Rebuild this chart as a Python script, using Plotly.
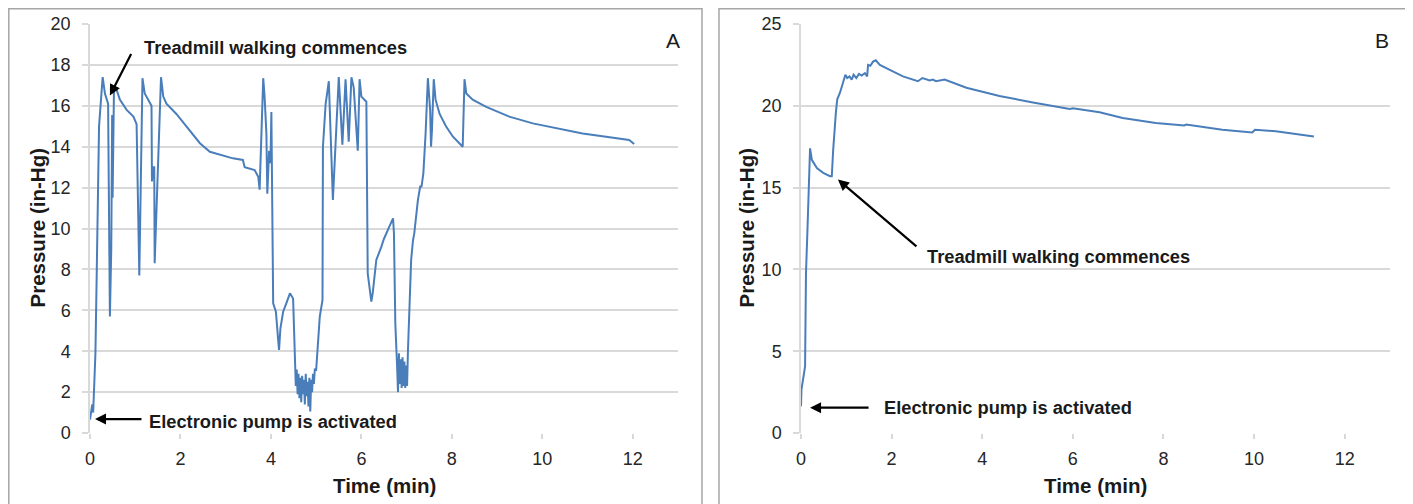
import plotly.graph_objects as go

# ---------------- Data: panel A ----------------
time_a = [0.00, 0.03, 0.05, 0.07, 0.09, 0.11, 0.12, 0.15, 0.18, 0.20, 0.28, 0.33, 0.40, 0.44, 0.47, 0.49,
          0.50, 0.53, 0.57, 0.66, 0.81, 0.96, 1.03, 1.09, 1.16, 1.21, 1.36, 1.37, 1.40, 1.42, 1.43, 1.46,
          1.57, 1.62, 1.69, 1.91, 2.13, 2.43, 2.65, 2.87, 3.16, 3.38, 3.42, 3.64, 3.72, 3.75, 3.83, 3.86,
          3.90, 3.92, 3.96, 3.99, 4.01, 4.05, 4.11, 4.16, 4.18, 4.21, 4.27, 4.34, 4.42, 4.49, 4.53, 4.55,
          4.57, 4.59, 4.61, 4.63, 4.65, 4.67, 4.69, 4.71, 4.73, 4.75, 4.77, 4.79, 4.81, 4.83, 4.85, 4.87,
          4.89, 4.91, 4.93, 4.95, 4.97, 5.00, 5.08, 5.14, 5.15, 5.21, 5.28, 5.37, 5.50, 5.58, 5.65, 5.72,
          5.78, 5.83, 5.92, 5.96, 6.00, 6.11, 6.14, 6.18, 6.22, 6.25, 6.33, 6.44, 6.50, 6.62, 6.70, 6.72,
          6.75, 6.79, 6.81, 6.83, 6.85, 6.87, 6.89, 6.91, 6.93, 6.95, 6.97, 6.99, 7.01, 7.03, 7.06, 7.10,
          7.14, 7.17, 7.25, 7.30, 7.33, 7.37, 7.42, 7.47, 7.52, 7.54, 7.56, 7.60, 7.64, 7.73, 7.87, 8.02,
          8.24, 8.28, 8.32, 8.46, 8.76, 9.27, 9.79, 10.30, 10.89, 11.41, 11.92, 12.03]
pressure_a = [0.65, 1.00, 1.40, 1.00, 2.20, 3.30, 3.90, 8.00, 14.00, 15.00, 17.40, 16.60, 16.10, 5.70, 9.00, 15.55,
              11.50, 16.80, 16.90, 16.30, 15.80, 15.47, 15.10, 7.70, 17.35, 16.60, 16.00, 12.30, 13.00, 13.00, 8.30, 10.10,
              17.40, 16.45, 16.10, 15.60, 15.00, 14.17, 13.75, 13.60, 13.43, 13.35, 13.00, 12.86, 12.53, 11.90, 17.35, 16.45,
              14.65, 11.70, 13.80, 13.20, 15.70, 6.34, 5.93, 4.55, 4.06, 5.12, 5.93, 6.34, 6.83, 6.58, 3.90, 2.30,
              3.10, 1.90, 2.90, 1.70, 2.70, 1.50, 2.80, 1.90, 2.60, 1.40, 2.90, 1.80, 2.50, 1.30, 2.70, 1.05,
              2.60, 2.00, 2.90, 2.40, 3.10, 3.08, 5.69, 6.50, 14.00, 16.10, 17.20, 11.40, 17.40, 14.10, 17.30, 14.25,
              17.40, 16.90, 13.80, 17.30, 16.45, 16.20, 7.80, 7.00, 6.42, 6.83, 8.46, 9.10, 9.50, 10.10, 10.50, 9.77,
              5.36, 3.24, 2.00, 3.90, 2.40, 3.60, 2.20, 3.70, 2.30, 3.50, 2.20, 3.30, 2.30, 4.06, 6.20, 8.46,
              9.40, 9.77, 11.40, 12.05, 12.05, 12.70, 14.65, 17.35, 15.80, 14.00, 14.80, 17.30, 16.30, 15.60, 15.00, 14.50,
              14.00, 17.30, 16.60, 16.30, 15.95, 15.47, 15.14, 14.90, 14.65, 14.49, 14.33, 14.13]

# ---------------- Data: panel B ----------------
time_b = [0.00, 0.01, 0.09, 0.11, 0.14, 0.18, 0.20, 0.24, 0.35, 0.49, 0.64, 0.68, 0.71, 0.77, 0.80, 0.86,
          0.90, 0.95, 0.98, 1.02, 1.07, 1.12, 1.16, 1.22, 1.28, 1.34, 1.41, 1.46, 1.48, 1.53, 1.59, 1.65,
          1.74, 1.96, 2.25, 2.58, 2.68, 2.84, 2.91, 2.98, 3.17, 3.65, 4.38, 5.12, 5.93, 6.00, 6.59, 7.10,
          7.83, 8.46, 8.50, 9.30, 9.96, 10.02, 10.48, 11.32]
pressure_b = [1.63, 2.65, 4.07, 9.78, 12.20, 16.90, 17.40, 16.70, 16.20, 15.90, 15.70, 15.70, 17.30, 19.60, 20.40, 20.80,
              21.20, 21.60, 21.90, 21.70, 21.80, 21.60, 21.90, 21.70, 21.95, 21.85, 22.00, 21.80, 22.50, 22.45, 22.70, 22.78,
              22.50, 22.20, 21.80, 21.50, 21.70, 21.55, 21.60, 21.50, 21.60, 21.10, 20.60, 20.20, 19.80, 19.85, 19.60, 19.25,
              18.95, 18.80, 18.85, 18.54, 18.37, 18.54, 18.44, 18.13]

x_ticks = [0, 2, 4, 6, 8, 10, 12]
y_ticks_a = [0, 2, 4, 6, 8, 10, 12, 14, 16, 18, 20]
y_ticks_b = [0, 5, 10, 15, 20, 25]

W, H = 1413, 504
OFF = 8  # page body margin offset


def px(s):
    return (s - OFF) / W


def py(s):
    return 1 - (s - OFF) / H


FONT = "Arial, Liberation Sans, sans-serif"
LINE_COLOR = "#4a7ebb"
GRID = "#d9d9d9"

fig = go.Figure()
fig.add_trace(go.Scatter(x=time_a, y=pressure_a, mode="lines",
                         line=dict(color=LINE_COLOR, width=2), xaxis="x", yaxis="y", showlegend=False))
fig.add_trace(go.Scatter(x=time_b, y=pressure_b, mode="lines",
                         line=dict(color=LINE_COLOR, width=2), xaxis="x2", yaxis="y2", showlegend=False))

ydom = [py(433), py(24)]
xa_common = dict(range=[0, 13], tickvals=x_ticks, showgrid=False, zeroline=False,
                 showline=False, ticks="outside", ticklen=5, tickcolor=GRID, tickwidth=1.5,
                 tickfont=dict(family=FONT, size=18, color="#262626"), ticklabelstandoff=4,
                 automargin=False, fixedrange=True)
ya_common = dict(showgrid=True, gridcolor=GRID, gridwidth=1.5, zeroline=False,
                 showline=True, linecolor=GRID, linewidth=1.5, ticks="outside", ticklen=6,
                 tickcolor=GRID, tickwidth=1.5,
                 tickfont=dict(family=FONT, size=18, color="#262626"), ticklabelstandoff=8,
                 automargin=False, fixedrange=True)

fig.update_layout(
    width=W, height=H, autosize=False,
    margin=dict(l=0, r=0, t=0, b=0, pad=0),
    paper_bgcolor="white", plot_bgcolor="white",
    xaxis=dict(domain=[px(90), px(678)], anchor="y", **xa_common),
    yaxis=dict(domain=ydom, anchor="x", range=[0, 20], tickvals=y_ticks_a, **ya_common),
    xaxis2=dict(domain=[px(801), px(1390)], anchor="y2", **xa_common),
    yaxis2=dict(domain=ydom, anchor="x2", range=[0, 25], tickvals=y_ticks_b, **ya_common),
)

# panel frames
fig.add_shape(type="rect", xref="paper", yref="paper", x0=px(8.8), x1=px(702), y0=-0.2, y1=py(8.8),
              line=dict(color="#a6a6a6", width=1.5), fillcolor="rgba(0,0,0,0)", layer="below")
fig.add_shape(type="rect", xref="paper", yref="paper", x0=px(719), x1=1.2, y0=-0.2, y1=py(8.8),
              line=dict(color="#a6a6a6", width=1.5), fillcolor="rgba(0,0,0,0)", layer="below")

bold = dict(family=FONT, size=18.3, color="#1a1a1a")
title_font = dict(family=FONT, size=20.5, color="#1a1a1a")
ann = []
# axis titles
for xc, yc in [((90 + 678) / 2, 37), ((801 + 1390) / 2, 746)]:
    ann.append(dict(text="<b>Time (min)</b>", xref="paper", yref="paper", x=px(xc), y=py(485),
                    showarrow=False, font=title_font, xanchor="center", yanchor="middle"))
    ann.append(dict(text="<b>Pressure (in-Hg)</b>", xref="paper", yref="paper", x=px(yc), y=py(228.5),
                    showarrow=False, font=title_font, textangle=-90, xanchor="center", yanchor="middle"))
# panel letters
ann.append(dict(text="A", xref="paper", yref="paper", x=px(673), y=py(41), showarrow=False,
                font=dict(family=FONT, size=21, color="#1a1a1a"), xanchor="center", yanchor="middle"))
ann.append(dict(text="B", xref="paper", yref="paper", x=px(1382), y=py(41), showarrow=False,
                font=dict(family=FONT, size=21, color="#1a1a1a"), xanchor="center", yanchor="middle"))

arrow_style = dict(showarrow=True, arrowhead=2, arrowsize=1, arrowwidth=2.2, arrowcolor="#000000", text="")
# panel A arrows & labels
ann.append(dict(x=0.44, y=16.5, xref="x", yref="y", ax=22, ay=-43, **arrow_style))
ann.append(dict(text="<b>Treadmill walking commences</b>", x=1.15, y=18.83, xref="x", yref="y",
                showarrow=False, font=bold, xanchor="left", yanchor="middle"))
ann.append(dict(x=0.11, y=0.68, xref="x", yref="y", ax=48, ay=0, **arrow_style))
ann.append(dict(text="<b>Electronic pump is activated</b>", x=1.26, y=0.55, xref="x", yref="y",
                showarrow=False, font=bold, xanchor="left", yanchor="middle"))
# panel B arrows & labels
ann.append(dict(x=0.815, y=15.49, xref="x2", yref="y2", ax=80, ay=68, **arrow_style))
ann.append(dict(text="<b>Treadmill walking commences</b>", x=2.73, y=10.8, xref="x2", yref="y2",
                showarrow=False, font=bold, xanchor="left", yanchor="middle"))
ann.append(dict(x=0.2, y=1.55, xref="x2", yref="y2", ax=60, ay=0, **arrow_style))
ann.append(dict(text="<b>Electronic pump is activated</b>", x=1.78, y=1.55, xref="x2", yref="y2",
                showarrow=False, font=bold, xanchor="left", yanchor="middle"))

fig.update_layout(annotations=ann)
fig.write_html("out.html")
